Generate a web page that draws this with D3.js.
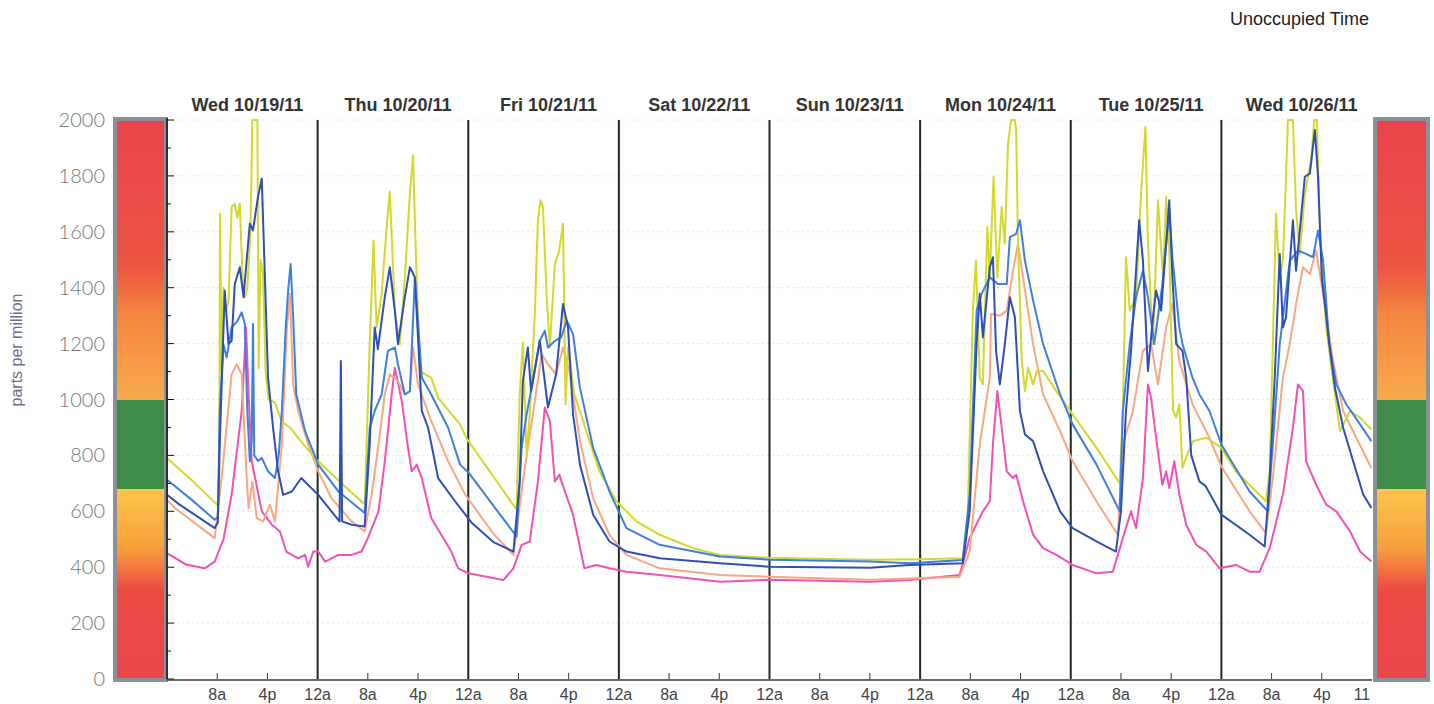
<!DOCTYPE html>
<html>
<head>
<meta charset="utf-8">
<script src="https://cdn.jsdelivr.net/npm/d3@7"></script>
<style>
  body { margin: 0; background: #fff; }
  svg { display: block; }
</style>
</head>
<body>
<div id="chart"></div>
<script>
const width = 1434;
const height = 704;

// hours since Wed 10/19/11 00:00, ppm
const dayLabels = ["Wed 10/19/11", "Thu 10/20/11", "Fri 10/21/11", "Sat 10/22/11",
    "Sun 10/23/11", "Mon 10/24/11", "Tue 10/25/11", "Wed 10/26/11"];
const yTicks = [0, 200, 400, 600, 800, 1000, 1200, 1400, 1600, 1800, 2000];

const yellowPts = [[0,790],[4,710],[7.9,625],[8.3,640],[8.45,1665],[8.7,1100],[9,1400],[9.4,1320],[9.8,1350],[10.3,1690],[10.8,1700],[11.2,1650],[11.6,1700],[12.1,1400],[12.4,1365],[12.8,1400],[13.3,1600],[13.6,2000],[14.4,2000],[14.6,1113],[14.9,1500],[15.3,1450],[15.7,1100],[16.2,1000],[17.2,990],[18.3,920],[19.6,900],[21,860],[23.8,785],[27.8,700],[31.5,624],[32.3,1198],[32.9,1569],[33.4,1258],[34.2,1378],[35,1617],[35.5,1743],[36.3,1318],[37.1,1198],[37.9,1437],[38.7,1737],[39.2,1874],[39.6,1557],[40.3,1102],[41.1,1090],[42.1,1078],[43.2,1006],[46.7,911],[47.7,862],[55.7,606],[56.2,1019],[56.7,1204],[57.3,803],[57.8,947],[58.6,1306],[59.1,1641],[59.5,1713],[59.9,1689],[60.5,1366],[61,1186],[61.8,1485],[62.5,1533],[63.1,1629],[63.5,983],[63.9,1186],[64.9,1019],[66.8,887],[68.9,743],[71.6,636],[74.8,564],[78.5,516],[83.8,468],[88.1,444],[96,434],[112,427],[120,428],[126.8,432],[127.6,600],[128.4,1318],[128.9,1497],[129.5,1078],[130,1054],[130.7,1617],[131.1,1437],[131.7,1796],[132.3,1437],[133,1689],[133.5,1557],[134,1916],[134.5,2000],[135.1,2000],[135.3,1964],[135.6,1557],[136.2,1138],[136.7,1030],[137.2,1114],[138,1054],[138.6,1102],[139.6,1102],[141.7,1030],[144.3,947],[148.1,827],[151.8,700],[152.3,959],[152.8,1509],[153.4,1318],[154.4,1366],[155.2,1737],[155.9,1976],[156.3,1557],[157.1,1198],[157.9,1713],[158.7,1437],[159.2,1725],[159.7,1533],[160.3,959],[160.8,935],[161.3,983],[161.8,755],[162.5,800],[163.5,851],[165.6,863],[168,827],[170.3,743],[175.1,636],[175.7,743],[176.2,1198],[176.7,1665],[177.3,1437],[177.8,1497],[178.3,1797],[178.6,2000],[179.4,2000],[179.9,1677],[180.5,1521],[181.3,1737],[182.3,1856],[182.8,2000],[183.2,2000],[183.7,1617],[184.7,1258],[186.1,1018],[186.9,887],[188.5,959],[190.1,935],[191.9,893]];

const lightBluePts = [[0,713],[4,640],[7.6,570],[8.1,580],[8.4,959],[9,1198],[9.5,1150],[10.3,1258],[11.2,1280],[11.9,1312],[12.4,1270],[12.8,959],[13.2,779],[13.5,850],[13.7,1270],[13.9,800],[14.5,780],[15.1,791],[16.1,743],[17.2,719],[17.8,800],[18.3,959],[18.9,1250],[19.3,1390],[19.7,1485],[20.1,1294],[20.6,1018],[22,887],[24.1,767],[27.3,671],[31.5,594],[32.3,899],[33.1,959],[34.2,1018],[35.2,1174],[36.3,1186],[36.8,1126],[37.9,1018],[38.7,1030],[39.5,1437],[40.6,1078],[42.1,1018],[44.8,899],[46.7,767],[48,740],[52,620],[55.7,510],[56.5,827],[57.3,947],[58.3,1066],[59.4,1210],[60.2,1246],[60.7,1186],[61.8,1210],[62.8,1222],[63.7,1282],[64.7,1234],[65.8,1042],[67.9,827],[70.5,671],[73.2,540],[78.5,480],[88.1,438],[96,427],[112,420],[118.3,414],[126.8,426],[127.9,660],[129,1318],[129.8,1378],[131.1,1437],[132.4,1413],[133.8,1413],[134.3,1581],[135.3,1593],[135.9,1641],[136.7,1497],[138,1354],[139.6,1198],[142.3,1018],[144.3,911],[148.1,767],[151.8,600],[152.3,959],[153.4,1198],[154.4,1366],[155.5,1461],[156.3,1366],[157.3,1198],[158.6,1413],[159.7,1677],[160.2,1509],[161.3,1258],[161.8,1198],[163.4,1078],[164.5,1018],[166.1,959],[168,839],[172.5,671],[175.4,600],[176.2,839],[177.3,1198],[178.9,1497],[180.2,1533],[181.5,1521],[182.6,1509],[183.4,1605],[184.2,1497],[185.2,1198],[186.3,1054],[187.9,983],[190.1,911],[191.9,851]];

const darkBluePts = [[0,659],[2,624],[7.6,540],[8.1,560],[8.4,839],[9.2,1390],[9.8,1198],[10.3,1210],[10.8,1413],[11.6,1473],[12.2,1366],[12.7,1500],[13.2,1629],[13.7,1605],[14.5,1725],[15.1,1790],[15.6,1437],[16.1,1078],[16.9,899],[17.7,743],[18.5,659],[19.9,671],[21.4,719],[23,683],[24.1,659],[26.2,600],[27.5,564],[27.7,1138],[27.9,564],[29.4,552],[31.5,546],[32.3,839],[33.1,1258],[33.6,1180],[34.7,1366],[35.5,1473],[36.3,1318],[36.8,1198],[37.9,1366],[38.7,1473],[39.5,1437],[40.6,959],[41.6,899],[43.2,719],[45.9,636],[48.5,560],[52,490],[55.2,456],[56.2,707],[56.7,1066],[57.5,1186],[58,1030],[59.4,1210],[60.7,971],[62,1090],[63.1,1342],[63.9,1258],[64.7,947],[65.8,767],[67.9,588],[70.5,492],[73.2,456],[78.5,432],[88.1,414],[96,402],[112,398],[118.3,408],[126.8,414],[127.9,600],[129,1198],[129.5,1378],[130,1222],[131.1,1473],[131.6,1509],[132.1,1174],[132.7,1054],[133.5,1198],[134.3,1366],[135.1,1294],[135.9,959],[136.7,875],[138,851],[139.6,743],[142.3,600],[144.3,540],[148.1,492],[151.2,456],[152,600],[152.8,959],[153.6,1174],[154.9,1641],[155.5,1497],[156.3,1102],[157.1,1294],[157.6,1390],[158.4,1318],[159.2,1557],[159.7,1713],[160.2,1437],[160.8,1198],[161.8,1174],[162.4,1078],[163.2,800],[164.5,707],[165.5,690],[168,588],[172.5,516],[174.9,474],[175.7,719],[176.5,1078],[177.3,1521],[177.8,1258],[178.3,1294],[179.4,1641],[179.9,1461],[181.3,1797],[182.1,1809],[182.9,1964],[183.4,1797],[184,1437],[185.2,1198],[186.1,1042],[187.4,899],[189,779],[190.6,660],[191.9,612]];

const orangePts = [[0,641],[1.3,611],[7.6,504],[8.7,719],[10.3,1090],[11.1,1126],[11.9,1090],[12.7,719],[13,611],[13.6,707],[14.3,576],[15.3,564],[16.4,624],[17.2,564],[18.3,839],[19.1,1258],[19.6,1378],[20.1,1054],[20.9,959],[22.5,839],[24.1,743],[26.2,647],[29.4,564],[31.5,528],[32.6,660],[33.7,839],[34.7,1018],[35.5,1090],[36.8,1066],[37.9,1018],[38.7,1030],[39.2,1186],[40,1054],[42.1,923],[44.8,779],[47.5,660],[52,520],[55.2,444],[56.7,707],[58.3,947],[59.7,1162],[60.7,1126],[62,1090],[63.1,1186],[64.1,1102],[65.8,851],[67.9,647],[70.5,516],[73.2,444],[78.5,396],[88.1,372],[96,366],[112,355],[118.3,360],[126.3,366],[127.9,456],[129.5,839],[131.1,1078],[131.3,1306],[132.7,1300],[133.8,1318],[134.8,1461],[135.6,1557],[136.4,1437],[138,1198],[139.6,1018],[142.3,887],[144.3,779],[148.1,636],[151.5,516],[152.3,839],[153.9,959],[155.5,1174],[156.8,1198],[157.9,1054],[159.2,1258],[160.2,1342],[161.3,1138],[163.4,983],[166.1,863],[168,760],[172.5,600],[175.1,522],[176.2,719],[177.8,1078],[178.9,1198],[179.9,1342],[181,1473],[182.1,1449],[183.1,1533],[184.2,1378],[185.8,1138],[187.4,959],[189.5,863],[191.9,755]];

const pinkPts = [[0,450],[3,410],[6,396],[7.6,420],[9,500],[10.3,660],[11.9,958],[12.6,1258],[13,1018],[13.5,779],[15.1,600],[16.7,552],[18,528],[19,456],[20.9,432],[22,444],[22.5,402],[23.3,456],[24.1,456],[25.2,420],[27.3,444],[29.4,444],[31,456],[32,504],[33.7,600],[34.7,779],[35.8,1018],[36.3,1114],[37.4,995],[38.4,827],[39,743],[39.8,767],[40.6,719],[42.1,576],[43.7,516],[45.3,456],[46.4,396],[48,378],[53.6,354],[55.2,396],[56.5,480],[57.8,492],[59.1,707],[60.2,971],[61,923],[61.8,707],[62.5,731],[63.4,671],[64.7,588],[66.5,396],[68.4,408],[70.5,396],[73.2,384],[78.5,372],[88.1,348],[96,355],[112,348],[118.3,354],[126.3,372],[127.9,504],[130,600],[131.1,636],[131.6,839],[132.3,1030],[133,899],[133.8,743],[134.8,719],[135.3,731],[136.4,636],[138,516],[139.6,468],[141.7,444],[144.3,408],[148.1,378],[150.7,384],[152.3,504],[153.6,600],[154.4,540],[155.5,719],[156.3,1054],[156.8,1006],[157.6,863],[158.6,695],[159.2,743],[159.7,683],[160.5,779],[161.3,660],[162.4,552],[164,480],[165.6,456],[167.7,396],[170.3,408],[172.5,384],[174.1,384],[175.7,468],[177.8,660],[179.4,899],[180.2,1054],[181,1030],[181.5,779],[183.1,695],[184.7,624],[186.3,600],[188.5,528],[190.1,456],[191.9,420]];

// drawing order: back to front
const series = [
    { name: "pink", color: "#ef52b2", pts: pinkPts },
    { name: "orange", color: "#f7a882", pts: orangePts },
    { name: "yellow", color: "#d3d92b", pts: yellowPts },
    { name: "lightBlue", color: "#3f7fdd", pts: lightBluePts },
    { name: "darkBlue", color: "#2f4fb3", pts: darkBluePts }
];

// comfort band colours down the side bars (ppm, colour)
const bandStops = [[2000,"#e9444c"],[1480,"#ec5443"],[1300,"#f4863e"],[1000,"#f9aa4c"],
    [1000,"#3e8c48"],[680,"#3e8c48"],[680,"#fdc54b"],[470,"#f7a03c"],[320,"#ec4b43"],[0,"#e9464b"]];

const svg = d3.select("#chart").append("svg")
    .attr("width", width)
    .attr("height", height)
    .style("font-family", "Arial, 'Liberation Sans', sans-serif");

const x = d3.scaleLinear().domain([0, 192]).range([167, 1372]);
const y = d3.scaleLinear().domain([0, 2000]).range([679, 120]);

// gradient for side bars
const grad = svg.append("defs").append("linearGradient")
    .attr("id", "band")
    .attr("gradientUnits", "userSpaceOnUse")
    .attr("x1", 0).attr("x2", 0)
    .attr("y1", y(2000)).attr("y2", y(0));
grad.selectAll("stop")
    .data(bandStops)
    .join("stop")
    .attr("offset", d => (y(d[0]) - y(2000)) / (y(0) - y(2000)))
    .attr("stop-color", d => d[1]);

svg.select("defs").append("clipPath").attr("id", "plotClip")
    .append("rect")
    .attr("x", x(0)).attr("y", y(2000) - 1)
    .attr("width", x(192) - x(0)).attr("height", y(0) - y(2000) + 1);

// side bars
[[115, 51], [1375, 53]].forEach(([bx, bw]) => {
    svg.append("rect")
        .attr("x", bx).attr("y", y(2000) - 1)
        .attr("width", bw).attr("height", y(0) - y(2000) + 2)
        .attr("fill", "url(#band)")
        .attr("stroke", "#8b9099")
        .attr("stroke-width", 4);
});

// faint grid
const grid = svg.append("g").attr("stroke", "#e6e6e6").attr("stroke-dasharray", "2,3");
grid.selectAll("line.h")
    .data(yTicks.filter(v => v > 0))
    .join("line")
    .attr("x1", x(0)).attr("x2", x(192))
    .attr("y1", d => y(d)).attr("y2", d => y(d));

// midnight separators
svg.append("g").selectAll("line")
    .data(d3.range(1, 8).map(d => d * 24))
    .join("line")
    .attr("x1", d => x(d)).attr("x2", d => x(d))
    .attr("y1", y(2000)).attr("y2", y(0))
    .attr("stroke", "#1e2a22")
    .attr("stroke-width", 2);

// series lines
const line = d3.line().x(d => x(d[0])).y(d => y(d[1]));
svg.append("g").attr("clip-path", "url(#plotClip)")
    .selectAll("path")
    .data(series)
    .join("path")
    .attr("d", d => line(d.pts))
    .attr("fill", "none")
    .attr("stroke", d => d.color)
    .attr("stroke-width", 2)
    .attr("stroke-linejoin", "round");

// y axis
const yAxis = svg.append("g");
yAxis.append("line")
    .attr("x1", x(0)).attr("x2", x(0))
    .attr("y1", y(2000) - 2).attr("y2", y(0))
    .attr("stroke", "#111").attr("stroke-width", 1.5);
yAxis.selectAll("line.tick")
    .data(d3.range(0, 2001, 100))
    .join("line")
    .attr("class", "tick")
    .attr("x1", x(0)).attr("x2", d => x(0) + (d % 200 === 0 ? 7 : 4))
    .attr("y1", d => y(d)).attr("y2", d => y(d))
    .attr("stroke", "#111").attr("stroke-width", 1);
yAxis.selectAll("text")
    .data(yTicks)
    .join("text")
    .attr("x", 105)
    .attr("y", d => y(d) + 7)
    .attr("text-anchor", "end")
    .attr("fill", "#777")
    .style("font-family", "Lato, 'Open Sans', sans-serif")
    .style("font-weight", "300")
    .style("font-size", "20px")
    .text(d => d);

svg.append("text")
    .attr("transform", "translate(22,350) rotate(-90)")
    .attr("text-anchor", "middle")
    .attr("fill", "#6c7090")
    .style("font-size", "16px")
    .text("parts per million");

// x axis
const xAxis = svg.append("g");
xAxis.append("line")
    .attr("x1", x(0)).attr("x2", x(192))
    .attr("y1", y(0) + 1).attr("y2", y(0) + 1)
    .attr("stroke", "#333").attr("stroke-width", 1.5);

const xTickData = [];
for (let d = 0; d < 8; d++) {
    xTickData.push({ h: d * 24 + 8, label: "8a", tick: true });
    xTickData.push({ h: d * 24 + 16, label: "4p", tick: true });
    if (d < 7) xTickData.push({ h: d * 24 + 24, label: "12a", tick: false });
}
xTickData.push({ h: 190.4, label: "11", tick: false });

xAxis.selectAll("line.tick")
    .data(xTickData.filter(d => d.tick))
    .join("line")
    .attr("class", "tick")
    .attr("x1", d => x(d.h)).attr("x2", d => x(d.h))
    .attr("y1", y(0)).attr("y2", y(0) - 6)
    .attr("stroke", "#333");
xAxis.selectAll("text")
    .data(xTickData)
    .join("text")
    .attr("x", d => x(d.h))
    .attr("y", 700)
    .attr("text-anchor", "middle")
    .attr("fill", "#444")
    .style("font-size", "16px")
    .text(d => d.label);

// day headers
svg.append("g").selectAll("text")
    .data(dayLabels)
    .join("text")
    .attr("x", (d, i) => x(i * 24 + 12) + 5)
    .attr("y", 111)
    .attr("text-anchor", "middle")
    .attr("fill", "#333")
    .style("font-size", "18px")
    .style("font-weight", "bold")
    .text(d => d);

svg.append("text")
    .attr("x", 1230)
    .attr("y", 25)
    .attr("fill", "#222")
    .style("font-size", "18px")
    .text("Unoccupied Time");
</script>
</body>
</html>
